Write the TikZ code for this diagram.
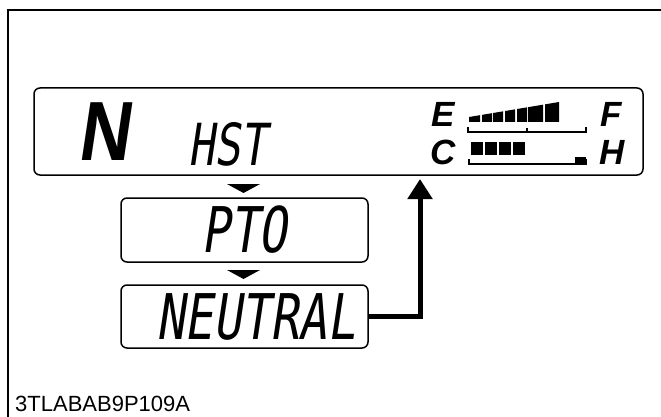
\documentclass[tikz,border=0pt]{standalone}
\usepackage{fontspec}
\setmainfont{Liberation Sans}
\newfontfamily\segfont[FakeStretch=0.75,FakeSlant=0.15]{DejaVu Sans Mono}
\newfontfamily\bigseg[FakeStretch=0.85,FakeSlant=0.15]{Liberation Sans}
\usetikzlibrary{arrows.meta, calc}

\begin{document}
\begin{tikzpicture}[x=1pt, y=-1pt,
  panel/.style={draw, line width=1.5pt, rounded corners=6pt, inner sep=0pt},
  seg/.style={font=\segfont\fontsize{63}{63}\selectfont},
  gauge/.style={font=\bfseries\itshape\fontsize{35}{35}\selectfont, inner sep=0pt},
  ar/.style={line width=5pt, -{Triangle[width=24pt, length=20pt]}},
  downmark/.pic={\fill (-16.5,-4.5) -- (16.5,-4.5) -- (0,4.5) -- cycle;}
]
\useasboundingbox (0,0) rectangle (661,417);
\draw[line width=2pt] (8,417) -- (8,10) -- (661,10);

% display panel
\node[panel, minimum width=609pt, minimum height=87pt] (disp) at (338.5,131.5) {};
\node[inner sep=0pt, font=\bigseg\bfseries\fontsize{84}{84}\selectfont] (gear) at (103.5,132) {N};
\node[inner sep=0pt, font=\segfont\fontsize{58}{58}\selectfont] (mode) at (227.5,144) {HST};
\node[gauge] (e) at (443,114) {E};
\node[gauge] (f) at (611,114) {F};
\node[gauge] (c) at (443,152.5) {C};
\node[gauge] (h) at (612,152.5) {H};

% fuel and temperature bars
\foreach \a/\b in {469/480, 482/492, 493/503, 505/515, 517/527, 528/543, 545/559}
  \fill (\a,122) -- (\a,{117-(\a-469)/6}) -- (\b,{117-(\b-469)/6}) -- (\b,122) -- cycle;
\draw[line width=2pt] (468,127) -- (468,132) -- (586,132) -- (586,127);
\draw[line width=2pt] (527,132) -- (527,128);
\foreach \a in {471,485,499,513}
  \fill (\a,142) rectangle (\a+12,155);
\draw[line width=2pt] (469,159) -- (469,164) -- (586,164) -- (586,159);
\fill (575,157) rectangle (586,165);

% menu steps
\node[panel, seg, minimum width=247pt, minimum height=64pt] (pto) at (244.5,230) {PTO\hspace{26pt}};
\node[panel, seg, minimum width=247pt, minimum height=63pt] (neutral) at (244.5,316.5) {\hspace{23pt}NEUTRAL};
\pic at (243.5,188.5) {downmark};
\pic at (243.5,274.5) {downmark};

\coordinate (tip) at (420,179);
\draw[ar] (neutral.east) -| (tip);

\node[anchor=base west, inner sep=0pt, font=\fontsize{22}{22}\selectfont] (code) at (15,411) {3TLABAB9P109A};
\end{tikzpicture}
\end{document}
